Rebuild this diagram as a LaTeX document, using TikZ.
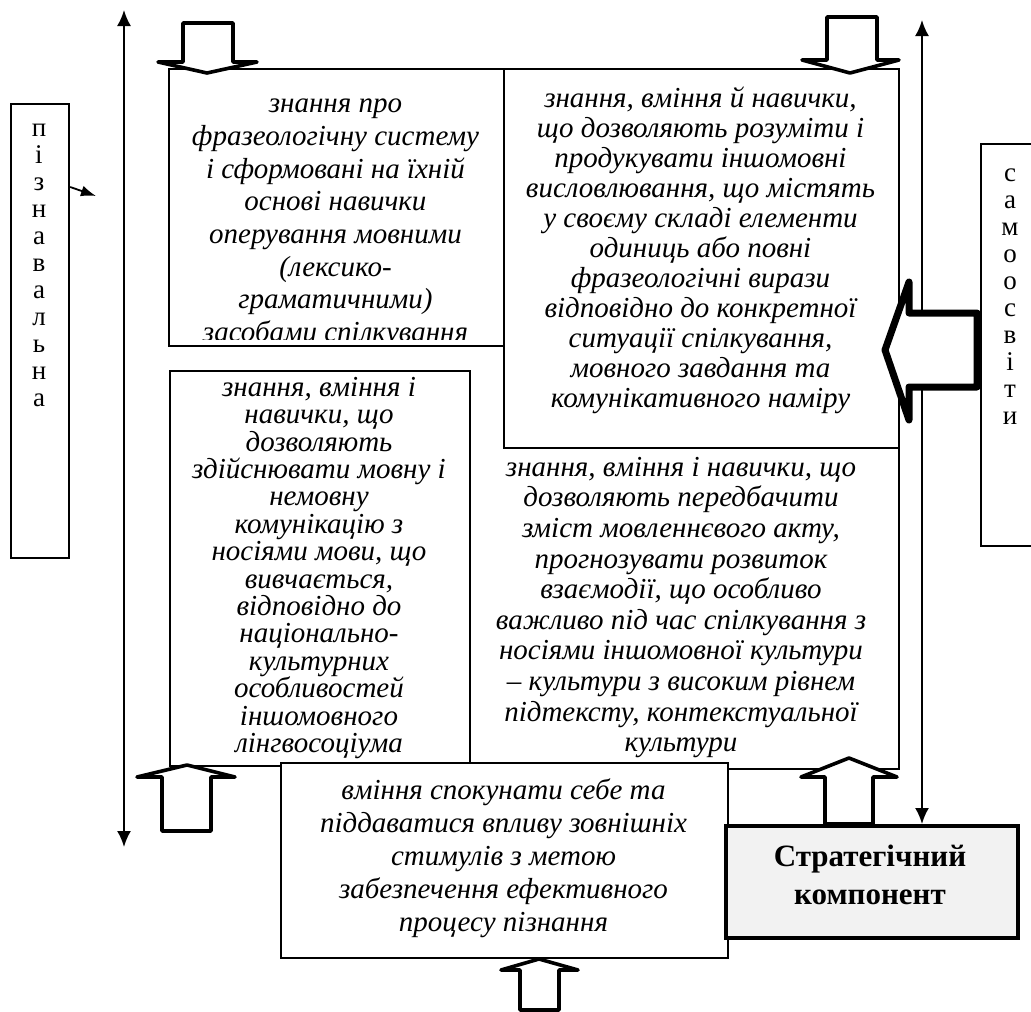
\documentclass[tikz,border=0pt]{standalone}
\usepackage{fontspec}
\setmainfont{Liberation Serif}
\usetikzlibrary{arrows.meta}
\definecolor{scgray}{HTML}{F2F2F2}
\begin{document}
\begin{tikzpicture}[x=1pt,y=-1pt,
  box/.style={draw, line width=2.2pt, fill=white, inner sep=0pt, anchor=north west},
  it/.style={font=\itshape\fontsize{29}{#1}\selectfont, align=center, inner sep=0pt},
  col/.style={font=\fontsize{27}{27}\selectfont, align=center, inner sep=0pt},
  blk/.style={draw, line width=3.6pt, fill=white, line join=round},
  dbl/.style={line width=2pt, {Latex[length=16pt,width=14pt]}-{Latex[length=16pt,width=14pt]}},
]
\useasboundingbox (0,0) rectangle (1031,1012);

% left vertical double arrow
\coordinate (lvt) at (124,10);
\coordinate (lvb) at (124,847);
\draw[dbl] (lvt) -- (lvb);

% left box "пізнавальна"
\node[box, minimum width=58pt, minimum height=454pt] (pl) at (10,103) {};
\node[col] (plt) at (39,265) {п\\і\\з\\н\\а\\в\\а\\л\\ь\\н\\а};
\coordinate (pa0) at (0,187);
\coordinate (pa) at (96,196);
\draw[line width=1.8pt, -{Latex[length=15pt,width=11pt]}] (pl.east |- pa0) -- (pa);

% bottom-right box (open top)
\node[box, draw=none, minimum width=428pt, minimum height=320pt] (br) at (469,447) {};
\draw[line width=2.2pt] (br.north west) |- (br.south east) -- (br.north east);
\node[it=30.6] (brt) at (681,607.5) {знання, вміння і навички, що\\дозволяють передбачити\\зміст мовленнєвого акту,\\прогнозувати розвиток\\взаємодії, що особливо\\важливо під час спілкування з\\носіями іншомовної культури\\– культури з високим рівнем\\підтексту, контекстуальної\\культури};

% middle-left box
\node[box, minimum width=300pt, minimum height=395pt] (ml) at (169,370) {};
\node[it=27.4] (mlt) at (319,568) {знання, вміння і\\навички, що\\дозволяють\\здійснювати мовну і\\немовну\\комунікацію з\\носіями мови, що\\вивчається,\\відповідно до\\національно-\\культурних\\особливостей\\іншомовного\\лінгвосоціума};

% top-right box
\node[box, minimum width=395pt, minimum height=379pt] (tr) at (503,68) {};
\node[it=30] (trt) at (700.5,250.5) {знання, вміння й навички,\\що дозволяють розуміти і\\продукувати іншомовні\\висловлювання, що містять\\у своєму складі елементи\\одиниць або повні\\фразеологічні вирази\\відповідно до конкретної\\ситуації спілкування,\\мовного завдання та\\комунікативного наміру};

% top-left box (text clipped at the bottom)
\node[box, minimum width=335pt, minimum height=277pt] (tl) at (168,68) {};
\begin{scope}
\clip (170,70) rectangle (501,339);
\node[it=32.7] (tlt) at (335.5,223.5) {знання про\\фразеологічну систему\\і сформовані на їхній\\основі навички\\оперування мовними\\(лексико-\\граматичними)\\засобами спілкування};
\end{scope}

% bottom-centre box
\node[box, minimum width=447pt, minimum height=195pt] (bc) at (280,762) {};
\node[it=33] (bct) at (503.5,858.5) {вміння спокунати себе та\\піддаватися впливу зовнішніх\\стимулів з метою\\забезпечення ефективного\\процесу пізнання};

% strategic component box
\node[box, fill=scgray, line width=3.6pt, minimum width=292pt, minimum height=112pt] (sc) at (724,824) {};
\node[font=\bfseries\fontsize{31}{38}\selectfont, align=center, inner sep=0pt] (sct) at (870,875) {Стратегічний\\компонент};

% right box "самоосвіти"
\node[box, minimum width=60pt, minimum height=402pt] (ps) at (980,143) {};
\node[col] (pst) at (1010,297) {с\\а\\м\\о\\о\\с\\в\\і\\т\\и};

% right vertical double arrow
\coordinate (rvt) at (922,20);
\draw[dbl] (rvt) -- (rvt |- sc.north);

% block arrows
\draw[blk] (183,23) -- (233,23) -- (233,62) -- (257,62) -- (207,73) -- (158,62) -- (183,62) -- cycle;
\draw[blk] (827,17) -- (877,17) -- (877,60) -- (899,60) -- (850,73) -- (802,60) -- (827,60) -- cycle;
\draw[blk] (162,831) -- (211,831) -- (211,777) -- (235,777) -- (187,765) -- (137,777) -- (162,777) -- cycle;
\draw[blk] (825,824) -- (873,824) -- (873,777) -- (897,777) -- (849,758) -- (801,777) -- (825,777) -- cycle;
\draw[blk] (520,1010) -- (559,1010) -- (559,970) -- (578,970) -- (539,959) -- (501,970) -- (520,970) -- cycle;
\draw[line width=7pt, fill=white, line join=round] (977,313) -- (909,313) -- (909,282) -- (885,350) -- (909,420) -- (909,387) -- (977,387) -- cycle;
\end{tikzpicture}
\end{document}
